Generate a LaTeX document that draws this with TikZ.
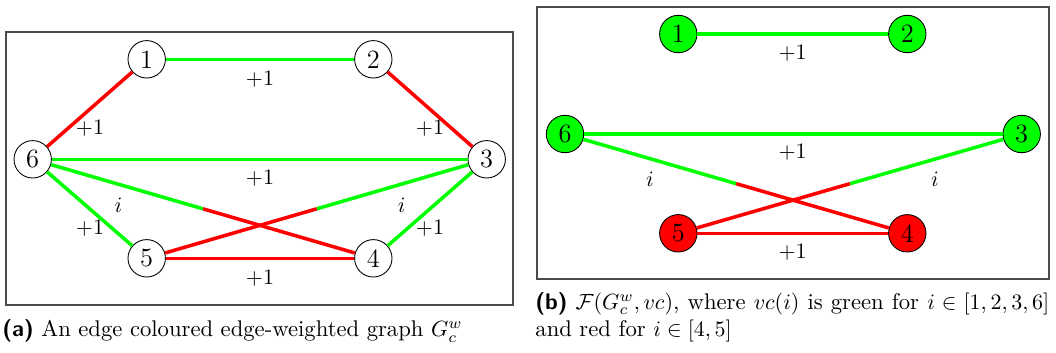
\documentclass[tikz,border=0pt]{standalone}
\usepackage{amsmath,amssymb}
\usetikzlibrary{calc}
\definecolor{gr}{RGB}{0,255,0}
\definecolor{rd}{RGB}{255,0,0}
\tikzset{
  vtx/.style={circle, draw=black, line width=0.4pt, fill=white, minimum size=17pt, inner sep=0pt, font=\fontsize{12}{14}\selectfont},
  gvtx/.style={vtx, fill=gr},
  rvtx/.style={vtx, fill=rd},
  ge/.style={draw=gr, line width=1.6pt},
  re/.style={draw=rd, line width=1.6pt},
  lbl/.style={font=\fontsize{10.3}{12.4}\selectfont, inner sep=0pt},
  frame/.style={draw=black!70, line width=0.5pt},
  captxt/.style={font=\fontsize{10.3}{12.6}\selectfont, inner sep=0pt},
}
\begin{document}
\begin{tikzpicture}[x=0.4545pt,y=-0.4545pt]
\useasboundingbox (0,0) rectangle (1056,352);
% ---------- panel (a)
\draw[frame] (6,32) rectangle (513,305);
\node[vtx] (a1) at (146.7,59.3) {1};
\node[vtx] (a2) at (373.3,59.3) {2};
\node[vtx] (a3) at (486.7,159.3) {3};
\node[vtx] (a4) at (373.3,258.3) {4};
\node[vtx] (a5) at (146.7,258.3) {5};
\node[vtx] (a6) at (32.7,159.3) {6};
\coordinate (am64) at ($(a6)!0.5!(a4)$);
\coordinate (am35) at ($(a3)!0.5!(a5)$);
\draw[ge] (a1) -- (a2);
\draw[re] (a6) -- (a1);
\draw[re] (a2) -- (a3);
\draw[ge] (a6) -- (a3);
\draw[ge] (a6) -- (a5);
\draw[ge] (a3) -- (a4);
\draw[re] (a5) -- (a4);
\draw[ge] (a6) -- (am64);
\draw[re] (am64) -- (a4);
\draw[ge] (a3) -- (am35);
\draw[re] (am35) -- (a5);
\node[lbl] (la12) at (260,79.3) {$+1$};
\node[lbl] (la61) at (90,128.3) {$+1$};
\node[lbl] (la23) at (430,128.3) {$+1$};
\node[lbl] (la63) at (260,178.3) {$+1$};
\node[lbl] (la64) at (118.3,205) {$i$};
\node[lbl] (la35) at (401.7,205) {$i$};
\node[lbl] (la65) at (90,228.3) {$+1$};
\node[lbl] (la34) at (430,228.3) {$+1$};
\node[lbl] (la54) at (260,278.3) {$+1$};
% ---------- panel (b)
\draw[frame] (537,7) rectangle (1049,279);
\node[gvtx] (b1) at (678.3,34) {1};
\node[gvtx] (b2) at (907.3,34) {2};
\node[gvtx] (b3) at (1021.7,134) {3};
\node[rvtx] (b4) at (907.3,233.3) {4};
\node[rvtx] (b5) at (678.3,233.3) {5};
\node[gvtx] (b6) at (565,134) {6};
\coordinate (bm64) at ($(b6)!0.5!(b4)$);
\coordinate (bm35) at ($(b3)!0.5!(b5)$);
\draw[ge] (b1) -- (b2);
\draw[ge] (b6) -- (b3);
\draw[re] (b5) -- (b4);
\draw[ge] (b6) -- (bm64);
\draw[re] (bm64) -- (b4);
\draw[ge] (b3) -- (bm35);
\draw[re] (bm35) -- (b5);
\node[lbl] (lb12) at (792.7,53.3) {$+1$};
\node[lbl] (lb63) at (792.7,152.7) {$+1$};
\node[lbl] (lb64) at (650,179.3) {$i$};
\node[lbl] (lb35) at (935,179.3) {$i$};
\node[lbl] (lb54) at (792.7,252.7) {$+1$};
% ---------- captions
\node[captxt, anchor=base west] (capa) at (2,336.7)
  {\textsf{\textbf{(a)}} An edge coloured edge-weighted graph $G_c^w$};
\node[captxt, anchor=base west, text width=233.5pt, align=justify] (capb) at (535,309)
  {\textsf{\textbf{(b)}} $\mathcal{F}(G_c^w, vc)$, where $vc(i)$ is green for $i \in [1,2,3,6]$ and red for $i \in [4,5]$};
\end{tikzpicture}
\end{document}
